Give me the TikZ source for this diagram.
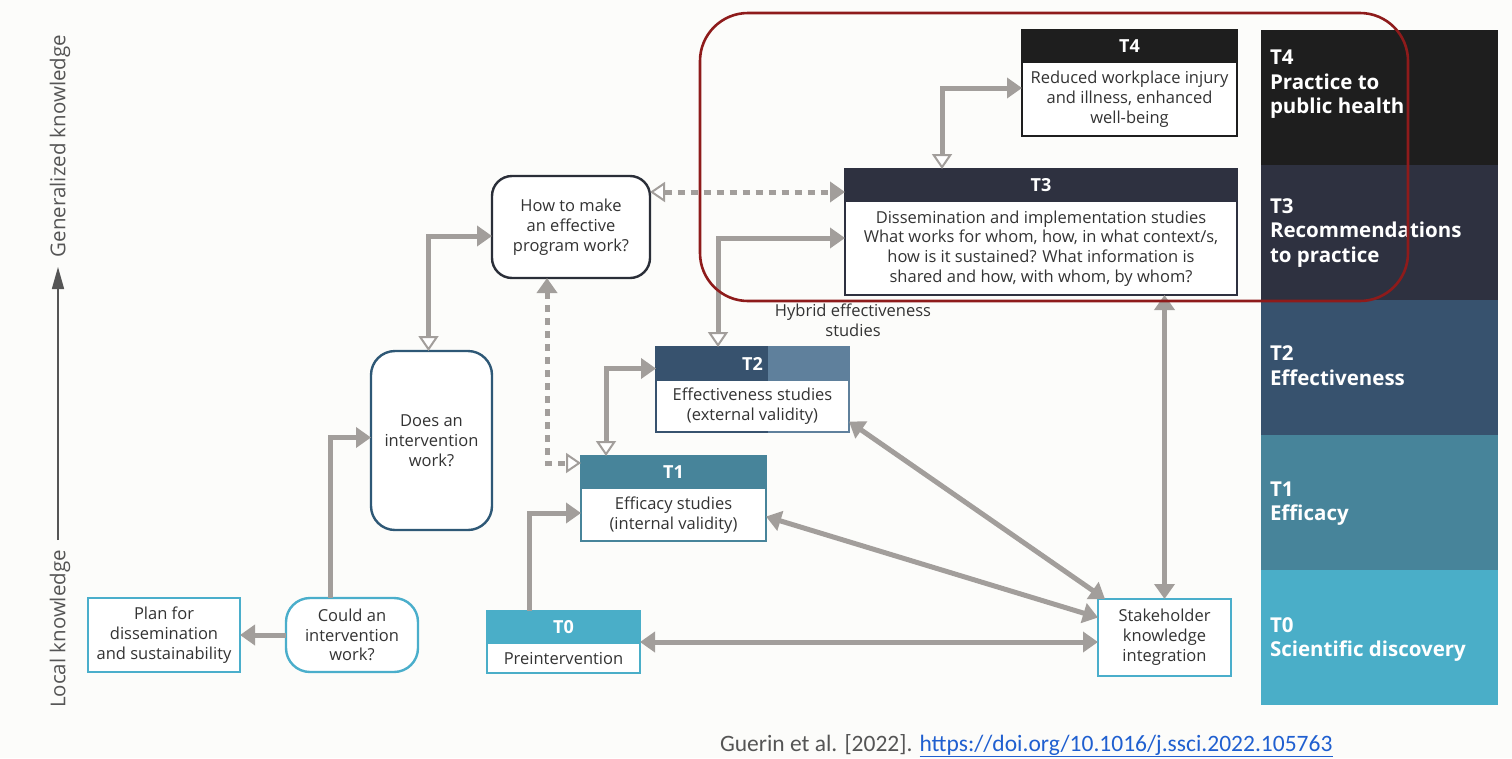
\documentclass[tikz,border=0pt]{standalone}
\usepackage{fontspec}
\setmainfont{Open Sans}
\newfontfamily\capfont{Carlito}
\usetikzlibrary{arrows.meta,calc}
\definecolor{bgcol}{HTML}{FCFCFA}
\definecolor{agray}{HTML}{A29E9B}
\definecolor{tcol}{HTML}{333333}
\definecolor{axcol}{HTML}{555555}
\definecolor{cfour}{HTML}{1E1E1E}
\definecolor{cthree}{HTML}{2E3140}
\definecolor{ctwo}{HTML}{37526E}
\definecolor{ctwol}{HTML}{5F809C}
\definecolor{cone}{HTML}{47849A}
\definecolor{czero}{HTML}{4AAEC8}
\definecolor{teal}{HTML}{4AAECB}
\definecolor{doescol}{HTML}{2E5876}
\definecolor{howcol}{HTML}{2A2E38}
\definecolor{redcol}{HTML}{8E1B1B}
\definecolor{linkcol}{HTML}{1F5FD0}
\tikzset{
  ftip/.tip={Triangle[length=15pt,width=20pt]},
  otip/.tip={Triangle[length=15pt,width=20pt,fill=white,line width=2pt]},
}
\begin{document}
\begin{tikzpicture}[x=1pt,y=-1pt,
  every node/.style={inner sep=0pt, outer sep=0pt},
  txt/.style={text=tcol, font=\fontsize{16.5}{19.8}\selectfont, align=center},
  qbox/.style={txt, draw=#1, fill=white, line width=2.4pt, anchor=north west},
  tbox/.style={draw=#1, fill=white, line width=2.4pt, anchor=north west},
  hdr/.style={fill=#1, anchor=north west, text=white, font=\bfseries\fontsize{18}{20}\selectfont, minimum height=33pt},
  conn/.style={draw=agray, line width=5pt},
  dots/.style={draw=agray, line width=5pt, dash pattern=on 7pt off 6pt},
  bandtxt/.style={anchor=west, align=left, text=white, font=\bfseries\fontsize{20.5}{24.5}\selectfont},
]
\useasboundingbox (0,0) rectangle (1512,758);
\fill[bgcol] (0,0) rectangle (1512,758);

% axis
\coordinate (axbot) at (58,540);
\coordinate (axtop) at (58,267);
\draw[axcol, line width=1.5pt, -{Triangle[length=22pt,width=12pt]}] (axbot) -- (axtop);
\node[rotate=90, text=axcol, font=\fontsize{20.5}{24}\selectfont] (gen) at (60,146) {Generalized knowledge};
\node[rotate=90, text=axcol, font=\fontsize{20.5}{24}\selectfont] (loc) at (60,629) {Local knowledge};

% right bands
\fill[cfour] (1261,30) rectangle (1498,166);
\fill[cthree] (1261,165) rectangle (1498,301);
\fill[ctwo] (1261,300) rectangle (1498,436);
\fill[cone] (1261,435) rectangle (1498,571);
\fill[czero] (1261,570) rectangle (1498,705);
\node[bandtxt] (b4) at (1270,84.5) {T4\\Practice to\\public health};
\node[bandtxt] (b3) at (1270,233) {T3\\Recommendations\\to practice};
\node[bandtxt] (b2) at (1270,365.5) {T2\\Effectiveness};
\node[bandtxt] (b1) at (1270,503.5) {T1\\Efficacy};
\node[bandtxt] (b0) at (1270,639.5) {T0\\Scientific discovery};

% question boxes
\node[qbox=teal, minimum width=152pt, minimum height=74pt] (plan) at (88,598) {Plan for\\dissemination\\and sustainability};
\node[qbox=teal, rounded corners=24pt, minimum width=132pt, minimum height=74pt] (could) at (286,598) {Could an\\intervention\\work?};
\node[qbox=doescol, rounded corners=24pt, minimum width=121pt, minimum height=179pt] (does) at (371,351) {Does an\\intervention\\work?};
\node[qbox=howcol, rounded corners=20pt, minimum width=158pt, minimum height=102pt] (how) at (492,176) {How to make\\an effective\\program work?};

% hybrid label
\node[txt] (hyb) at (853,320) {Hybrid effectiveness\\studies};

% T4
\node[tbox=cfour, minimum width=215pt, minimum height=106pt] (T4) at (1022,30) {};
\node[hdr=cfour, minimum width=215pt] (T4h) at (T4.north west) {T4};
\node[txt] (T4t) at ($(T4h.south)!0.5!(T4.south)$) {Reduced workplace injury\\and illness, enhanced\\well-being};

% T3
\node[tbox=cthree, minimum width=392pt, minimum height=126pt] (T3) at (845,169) {};
\node[hdr=cthree, minimum width=392pt] (T3h) at (T3.north west) {T3};
\node[txt] (T3t) at ($(T3h.south)!0.5!(T3.south)$) {Dissemination and implementation studies\\What works for whom, how, in what context/s,\\how is it sustained? What information is\\shared and how, with whom, by whom?};

% T2
\node[tbox=ctwo, minimum width=193pt, minimum height=85pt] (T2) at (656,347) {};
\fill[ctwol] ([xshift=112pt]T2.north west) rectangle ([yshift=-34pt]T2.north east);
\draw[ctwol, line width=2.4pt] ([xshift=112pt]T2.north west) -- (T2.north east) -- (T2.south east) -- ([xshift=112pt]T2.south west);
\fill[ctwo] (T2.north west) rectangle ([xshift=112pt,yshift=-34pt]T2.north west);
\node[text=white, font=\bfseries\fontsize{18}{20}\selectfont] (T2h) at ([yshift=-17pt]T2.north) {T2};
\node[txt] (T2t) at ($([yshift=-34pt]T2.north)!0.5!(T2.south)$) {Effectiveness studies\\(external validity)};

% T1
\node[tbox=cone, minimum width=185pt, minimum height=85pt] (T1) at (581,456) {};
\node[hdr=cone, minimum width=185pt] (T1h) at (T1.north west) {T1};
\node[txt] (T1t) at ($(T1h.south)!0.5!(T1.south)$) {Efficacy studies\\(internal validity)};

% T0
\node[tbox=czero, minimum width=153pt, minimum height=62pt] (T0) at (487,611) {};
\node[hdr=czero, minimum width=153pt] (T0h) at (T0.north west) {T0};
\node[txt] (T0t) at ($(T0h.south)!0.5!(T0.south)$) {Preintervention};

% stakeholder
\node[qbox=teal, minimum width=133pt, minimum height=77pt] (ski) at (1098,599) {Stakeholder\\knowledge\\integration};

% connectors
\draw[conn, -ftip] (could.west) -- (plan.east);
\draw[conn, -ftip] ([xshift=-22pt]could.north) |- ([yshift=3pt]does.west);
\draw[conn, ftip-otip] ([yshift=-9pt]how.west) -| ([xshift=-3pt]does.north);
\draw[dots, otip-ftip] ([yshift=35pt]how.east) -- ([yshift=35pt]how.east -| T3.west);
\draw[dots, ftip-otip] ([xshift=-24pt]how.south) |- ([yshift=-7pt]T1.north west);
\draw[conn, otip-ftip] ([xshift=25pt]T1.north west) |- ([yshift=21pt]T2.west);
\draw[conn, -ftip] ([xshift=42pt]T0.north west) |- ([yshift=-14.5pt]T1.west);
\draw[conn, otip-ftip] ([xshift=62pt]T2.north west) |- ([yshift=-6pt]T3.west);
\draw[conn, otip-ftip] ([xshift=97pt]T3.north west) |- ([yshift=-5pt]T4.west);
\draw[conn, ftip-ftip] (T0.east) -- (T0.east -| ski.west);
\draw[conn, ftip-ftip] ([yshift=-18pt]T1.east) -- ([yshift=20pt]ski.west);
\draw[conn, ftip-ftip] ([yshift=-32pt]T2.east) -- ([xshift=7pt]ski.north west);
\draw[conn, ftip-ftip] (ski.north) -- (ski.north |- T3.south);

% red highlight
\draw[redcol, line width=2.6pt, rounded corners=48pt] (700,13) rectangle (1408,301);

% caption
\node[anchor=base west, font=\capfont\fontsize{23.5}{28}\selectfont, text=axcol] (cap) at (720,751) {Guerin et al. [2022]. \textcolor{linkcol}{\underline{https://doi.org/10.1016/j.ssci.2022.105763}}};
\end{tikzpicture}
\end{document}
